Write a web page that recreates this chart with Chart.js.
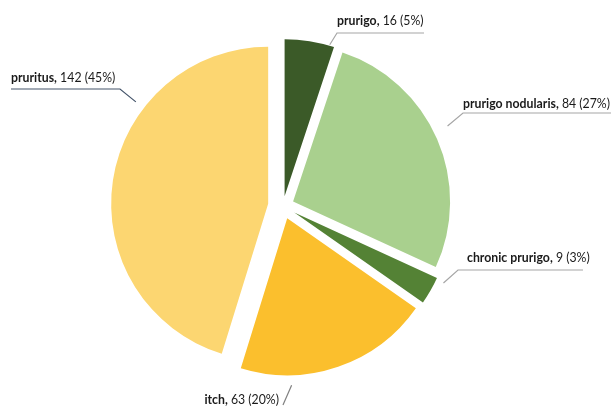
<!DOCTYPE html>
<html>
<head>
<meta charset="utf-8">
<script src="https://cdn.jsdelivr.net/npm/chart.js@4.4.1/dist/chart.umd.min.js"></script>
<style>
  html, body { margin: 0; padding: 0; background: #ffffff; }
  #wrap { width: 611px; height: 407px; position: relative; }
</style>
</head>
<body>
<div id="wrap"><canvas id="pie" width="611" height="407"></canvas></div>
<script>
// Search terms and how many records used each one
const categories = ['prurigo', 'prurigo nodularis', 'chronic prurigo', 'itch', 'pruritus'];
const counts = [16, 84, 9, 63, 142];
const sliceColors = ['#3b5a28', '#a9d08e', '#548235', '#fbbf2d', '#fcd671'];

// How far each slice is pulled out from the centre (px)
const explode = [10, 11, 13, 13, 15];

// Leader line and label placement for each slice
const labelLayout = [
  { angle: 16.6, gap: 1,  elbow: [337, 33],  end: [424, 33],  text: [337, 20], align: 'left',  line: '#a6a6a6' },
  { angle: 63.9, gap: 15, elbow: [463, 113], end: [611, 113], text: [463, 103], align: 'left', line: '#a6a6a6' },
  { angle: 115.3, gap: 8, elbow: [458, 270], end: [583, 270], text: [467, 257], align: 'left', line: '#a6a6a6' },
  { angle: 178.5, gap: 10, elbow: null,      end: [283, 405], text: [279, 399], align: 'right', line: '#7f7f7f' },
  { angle: 307.6, gap: 10, elbow: [120, 89], end: [11, 89],   text: [11, 77],   align: 'left',  line: '#44546a' }
];

const total = counts.reduce((a, b) => a + b, 0);
const FONT = 'Lato, "Open Sans", sans-serif';
const FONT_SIZE = 14;
// Widest label is set to this width; the others use the same condensing
const WIDEST_LABEL_PX = 147;

function labelParts(i) {
  const pct = Math.round(counts[i] / total * 100);
  return [categories[i] + ',', ' ' + counts[i] + ' (' + pct + '%)'];
}

// Moves each arc out along its bisector after Chart.js has laid the pie out
const explodePlugin = {
  id: 'explodeSlices',
  afterUpdate(chart) {
    const meta = chart.getDatasetMeta(0);
    const cx = (chart.chartArea.left + chart.chartArea.right) / 2;
    const cy = (chart.chartArea.top + chart.chartArea.bottom) / 2;
    meta.data.forEach((arc, i) => {
      const mid = (arc.startAngle + arc.endAngle) / 2;
      arc.x = cx + Math.cos(mid) * explode[i];
      arc.y = cy + Math.sin(mid) * explode[i];
    });
  }
};

// Draws "name, count (pct%)" labels with their leader lines
const calloutPlugin = {
  id: 'callouts',
  afterDatasetsDraw(chart) {
    const ctx = chart.ctx;
    const meta = chart.getDatasetMeta(0);
    const boldFont = 'bold ' + FONT_SIZE + 'px ' + FONT;
    const plainFont = FONT_SIZE + 'px ' + FONT;

    const widthOf = (i) => {
      const [b, p] = labelParts(i);
      ctx.font = boldFont;
      const wb = ctx.measureText(b).width;
      ctx.font = plainFont;
      return [wb, ctx.measureText(p).width];
    };
    let widest = 0;
    counts.forEach((_, i) => { const w = widthOf(i); widest = Math.max(widest, w[0] + w[1]); });
    const squeeze = Math.min(1, WIDEST_LABEL_PX / widest);

    meta.data.forEach((arc, i) => {
      const L = labelLayout[i];
      const a = L.angle * Math.PI / 180;
      const r = arc.outerRadius + L.gap;
      const sx = arc.x + Math.sin(a) * r;
      const sy = arc.y - Math.cos(a) * r;

      ctx.save();
      ctx.strokeStyle = L.line;
      ctx.lineWidth = 1.2;
      ctx.beginPath();
      ctx.moveTo(sx, sy);
      if (L.elbow) ctx.lineTo(L.elbow[0], L.elbow[1]);
      ctx.lineTo(L.end[0], L.end[1]);
      ctx.stroke();
      ctx.restore();

      const [boldPart, plainPart] = labelParts(i);
      const [wb, wp] = widthOf(i);
      const total_w = (wb + wp) * squeeze;
      const x = L.align === 'right' ? L.text[0] - total_w : L.text[0];

      ctx.save();
      ctx.translate(x, L.text[1]);
      ctx.scale(squeeze, 1);
      ctx.textBaseline = 'middle';
      ctx.textAlign = 'left';
      ctx.fillStyle = '#1a1a1a';
      ctx.font = boldFont;
      ctx.fillText(boldPart, 0, 0);
      ctx.font = plainFont;
      ctx.fillText(plainPart, wb, 0);
      ctx.restore();
    });
  }
};

new Chart(document.getElementById('pie'), {
  type: 'pie',
  data: {
    labels: categories,
    datasets: [{
      data: counts,
      backgroundColor: sliceColors,
      borderWidth: 0,
      radius: 157
    }]
  },
  options: {
    responsive: false,
    animation: false,
    events: [],
    rotation: 0,
    layout: { padding: { left: 0, right: 45, top: 5, bottom: 0 } },
    plugins: {
      legend: { display: false },
      tooltip: { enabled: false }
    }
  },
  plugins: [explodePlugin, calloutPlugin]
});
</script>
</body>
</html>
